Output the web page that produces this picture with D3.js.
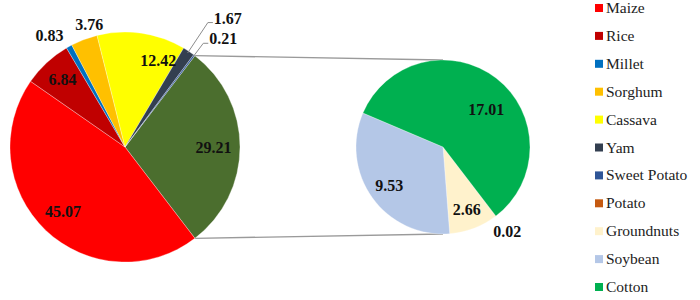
<!DOCTYPE html>
<html>
<head>
<meta charset="utf-8">
<script src="https://cdn.jsdelivr.net/npm/d3@7"></script>
</head>
<body style="margin:0">
<script>
  // main pie crops (percent share)
  var mainCrops = ['Maize', 'Rice', 'Millet', 'Sorghum', 'Cassava', 'Yam', 'Sweet Potato'];
  var mainShares = [45.07, 6.84, 0.83, 3.76, 12.42, 1.67, 0.21];
  // the "other" wedge that is broken out into the second pie
  var otherShare = 29.21;
  var subCrops = ['Potato', 'Groundnuts', 'Soybean', 'Cotton'];
  var subShares = [0.02, 2.66, 9.53, 17.01];
  var cropColors = ['#ff0000', '#c00000', '#0070c0', '#ffc000', '#ffff00', '#333f50',
                    '#2f5597', '#c55a11', '#fff2cc', '#b4c7e7', '#00b050'];
  var otherColor = '#4b6e2e';

  var width = 700, height = 300;
  var big = { cx: 125, cy: 147, r: 115 };
  var small = { cx: 443, cy: 147, r: 87 };

  var allCrops = mainCrops.concat(subCrops);
  var color = d3.scaleOrdinal().domain(allCrops).range(cropColors);

  var svg = d3.select('body').append('svg')
      .attr('width', width)
      .attr('height', height)
      .attr('font-family', 'Liberation Serif')
      .style('display', 'block');

  var total = d3.sum(mainShares) + otherShare;
  var otherSpan = otherShare / total * 2 * Math.PI;
  // excel turns the pie so the broken-out wedge faces the second pie
  var start = Math.PI / 2 - otherSpan / 2;

  var bigData = [{ name: 'Other', value: otherShare }].concat(mainCrops.map(function(c, i) {
    return { name: c, value: mainShares[i] };
  }));
  var smallData = subCrops.map(function(c, i) { return { name: c, value: subShares[i] }; });

  var bigArcs = d3.pie().sort(null).value(function(d) { return d.value; })
      .startAngle(start).endAngle(start + 2 * Math.PI)(bigData);
  var smallStart = start + otherSpan;
  var smallArcs = d3.pie().sort(null).value(function(d) { return d.value; })
      .startAngle(smallStart).endAngle(smallStart + 2 * Math.PI)(smallData);

  function polar(p, a, rr) {
    return [p.cx + rr * Math.sin(a), p.cy - rr * Math.cos(a)];
  }

  // connector lines
  var otherArc = bigArcs[0];
  var conn = [
    [polar(big, otherArc.startAngle, big.r), [small.cx, small.cy - small.r]],
    [polar(big, otherArc.endAngle, big.r), [small.cx, small.cy + small.r]]
  ];
  svg.selectAll('line.conn').data(conn).enter().append('line')
      .attr('class', 'conn')
      .attr('x1', function(d) { return d[0][0]; })
      .attr('y1', function(d) { return d[0][1]; })
      .attr('x2', function(d) { return d[1][0]; })
      .attr('y2', function(d) { return d[1][1]; })
      .attr('stroke', '#9a9a9a')
      .attr('stroke-width', 1.3);

  var bigArc = d3.arc().innerRadius(0).outerRadius(big.r);
  var smallArc = d3.arc().innerRadius(0).outerRadius(small.r);

  svg.append('g').attr('transform', 'translate(' + big.cx + ',' + big.cy + ')')
    .selectAll('path').data(bigArcs).enter().append('path')
      .attr('d', bigArc)
      .attr('fill', function(d) { return d.data.name === 'Other' ? otherColor : color(d.data.name); })
      .attr('stroke', '#fff')
      .attr('stroke-width', 0.3);

  svg.append('g').attr('transform', 'translate(' + small.cx + ',' + small.cy + ')')
    .selectAll('path').data(smallArcs).enter().append('path')
      .attr('d', smallArc)
      .attr('fill', function(d) { return color(d.data.name); })
      .attr('stroke', '#fff')
      .attr('stroke-width', 0.3);

  // label placement: radius factor and small nudges, like excel put them
  var labelPlace = {
    'Other':   { k: 0.77, dx: 0, dy: 0 },
    'Maize':   { k: 0.78, dx: 0, dy: 0 },
    'Rice':    { k: 0.80, dx: 0, dy: 0 },
    'Millet':  { k: 1.17, dx: -10, dy: 6 },
    'Sorghum': { k: 1.12, dx: 10, dy: -2 },
    'Cassava': { k: 0.80, dx: 20, dy: 5 },
    'Yam':          { k: 1.30, leader: true },
    'Sweet Potato': { k: 1.13, leader: true },
    'Potato':     { k: 1.22, dx: 0, dy: 0 },
    'Groundnuts': { k: 0.77, dx: 0, dy: 0 },
    'Soybean':    { k: 0.76, dx: 0, dy: 0 },
    'Cotton':     { k: 0.66, dx: 8, dy: 8 }
  };

  function addLabels(arcs, p) {
    arcs.forEach(function(a) {
      var pl = labelPlace[a.data.name];
      var mid = (a.startAngle + a.endAngle) / 2;
      var txt = a.data.value.toFixed(2);
      if (pl.leader) {
        var p0 = polar(p, mid, p.r - 2);
        var p1 = polar(p, mid, p.r * pl.k);
        var p2 = [p1[0] + 5, p1[1]];
        svg.append('polyline')
          .attr('points', [p0, p1, p2].map(function(q) { return q.join(','); }).join(' '))
          .attr('fill', 'none')
          .attr('stroke', '#8c8c8c')
          .attr('stroke-width', 1);
        svg.append('text')
          .attr('x', p2[0] + 1)
          .attr('y', p2[1] + 1)
          .attr('font-family', 'Liberation Serif')
          .attr('font-weight', 'bold')
          .attr('font-size', 16)
          .attr('fill', '#111')
          .text(txt);
        return;
      }
      var c = polar(p, mid, p.r * pl.k);
      svg.append('text')
        .attr('x', c[0] + pl.dx)
        .attr('y', c[1] + pl.dy + 5.5)
        .attr('text-anchor', 'middle')
        .attr('font-family', 'Liberation Serif')
        .attr('font-weight', 'bold')
        .attr('font-size', 16)
        .attr('fill', '#111')
        .text(txt);
    });
  }
  addLabels(bigArcs, big);
  addLabels(smallArcs, small);

  // legend
  var legend = svg.append('g').attr('transform', 'translate(595,0)');
  var item = legend.selectAll('g').data(allCrops).enter().append('g')
      .attr('transform', function(d, i) { return 'translate(0,' + (8 + i * 27.9) + ')'; });
  item.append('rect')
      .attr('x', 0).attr('y', -4)
      .attr('width', 8).attr('height', 8)
      .attr('fill', function(d) { return color(d); });
  item.append('text')
      .attr('x', 11)
      .attr('y', 5)
      .attr('font-family', 'Liberation Serif')
      .attr('font-size', 15.5)
      .attr('fill', '#222')
      .text(function(d) { return d; });
</script>
</body>
</html>
